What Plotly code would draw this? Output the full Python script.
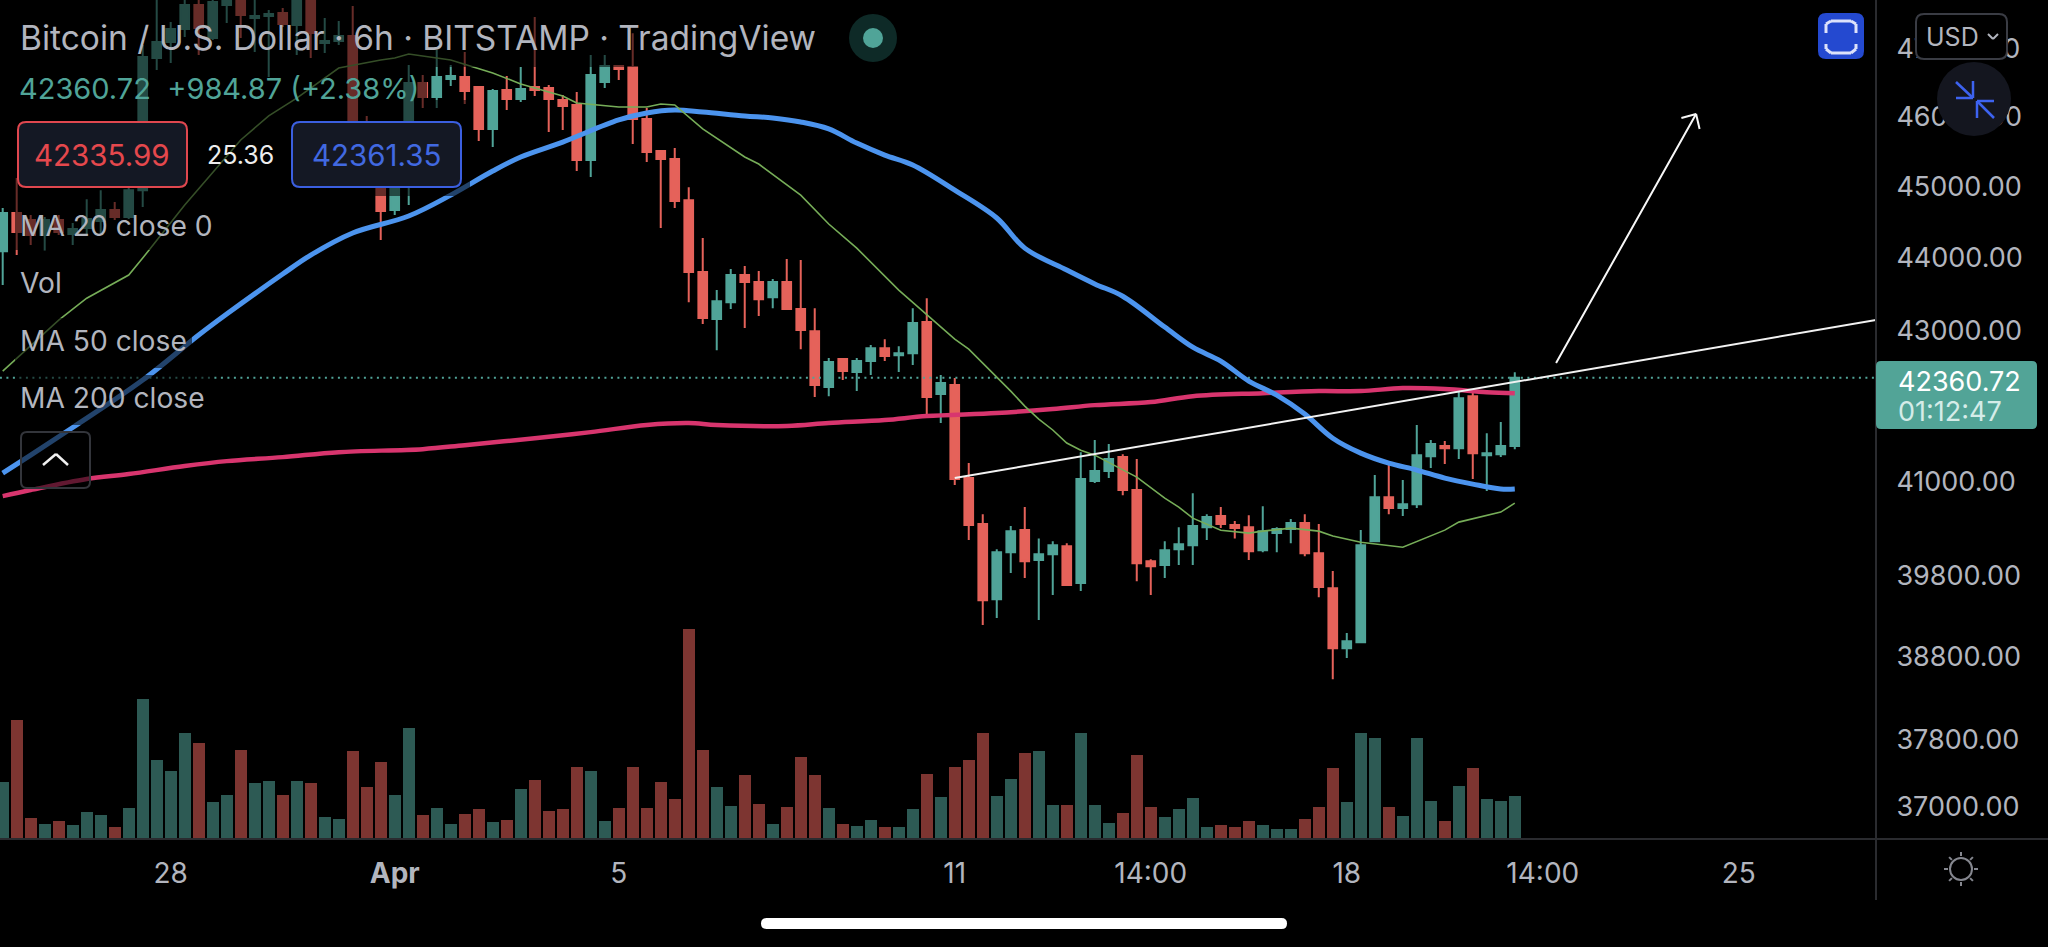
import math
import pandas as pd
import plotly.graph_objects as go

BAR_START = pd.Timestamp("2022-03-25 00:00")
BAR_COUNT = 109

open_ = [44087,44620,44522,44312,44522,44326,44410,44508,44662,44564,44943,46855,47093,47287,47645,47152,47645,47870,47451,47481,
47526,47347,47765,47077,47107,47182,45876,45515,44662,45229,46488,46282,46546,46576,46429,45819,46385,46253,46429,46414,
46238,46166,45372,46503,46737,46723,45963,45501,45386,44802,43797,43153,43384,43756,43659,43452,43659,43289,42989,42238,
42612,42438,42585,42759,42665,42692,43112,42144,42264,41043,40452,39505,40095,40375,39995,40070,40170,39706,41004,41134,
41315,40888,39982,39932,40133,40183,40413,40554,40439,40413,40120,40337,40388,40465,40082,39643,38900,38974,40233,40797,
40656,40707,41328,41459,41432,42117,41341,41354,41459]
high = [44690,45116,44592,44564,44592,44480,44816,44943,44774,45000,47048,47795,47391,47795,47765,47840,47870,47945,47840,47571,
47600,47795,47840,47451,47406,47630,46007,45660,45372,46752,46605,46973,46752,46944,46429,46400,46590,46723,47466,46458,
46311,46355,46899,46899,46752,47223,46122,45515,45544,44985,44270,43549,43839,43880,43811,43701,43977,43963,43302,42625,
42612,42625,42800,42881,42786,43302,43438,42398,42358,41237,40579,40133,40426,40669,40270,40233,40208,41380,41538,41485,
41354,41289,40007,40233,40413,40847,40579,40669,40490,40566,40681,40413,40516,40579,40452,39857,39085,40375,41082,41212,
41017,41735,41538,41525,42196,42170,41626,41775,42437]
low = [43618,44032,44172,44101,44312,44172,44312,44340,44522,44536,44704,46679,46782,47167,46899,47122,47376,47152,46944,46576,
47317,46899,46855,46929,47048,45515,45301,44241,44592,44732,46122,46122,46444,46180,45645,45558,46093,46209,46297,45775,
45804,45215,45129,46414,46532,45601,45344,44410,44690,43384,43085,42732,43289,43031,43194,43302,43275,42745,42104,42117,
42331,42184,42398,42585,42438,42532,41867,41761,40952,40248,39184,39271,39832,39769,39246,39556,39681,39606,40979,41043,
40822,39730,39556,39769,39932,39932,40248,40401,40270,39995,40095,40095,40208,40045,39530,38522,38778,38974,40220,40579,
40554,40656,41173,41225,41289,41030,40875,41315,41419]
close = [44620,44354,44312,44522,44354,44396,44536,44662,44564,44943,46870,47093,47287,47645,47302,47690,47795,47496,47481,47511,
47361,47720,47227,47107,47182,45660,45515,44648,45229,46488,46282,46576,46590,46370,45819,46370,46253,46400,46385,46253,
46151,45372,46605,46737,46693,45963,45486,45386,44788,43797,43167,43397,43756,43659,43425,43659,43289,43003,42264,42572,
42451,42585,42759,42652,42692,43099,42104,42291,41030,40439,39493,40095,40362,39982,40070,40183,39681,41030,41134,41289,
40888,39957,39919,40120,40196,40426,40541,40452,40401,40107,40362,40388,40465,40082,39656,38900,38986,40183,40797,40656,
40707,41341,41485,41432,42090,41367,41367,41459,42360.72]
volume = [55.7,118,20,13.7,17,12.7,26,23,10.7,29.7,139,77.7,66.7,104.7,95.3,36.3,42.7,88,54.7,56.7,
42.7,56.7,54.7,21.3,19.3,87,51,76,42.7,110,23,30.3,14.3,24,29,15.7,18,49,57.7,27,
29,70.7,67,17,30.3,70.7,30.3,56.3,39,209,88,51,32,62.7,34,14.3,31,80.7,63,29.7,
13.7,12,18,11.3,11.3,29,64.3,41,71,78,105,41.7,59,85,86.7,32.7,32.7,105,33.3,15,
25.3,83,30.7,21,29,40,11,13,10.7,17,13,9,9,19.3,30.7,70,35.7,105,99.7,30.7,
22.3,99.7,37,16.7,52,70,38.7,37,41.7]

ma20_bars = [0,4,6,9,10,13,17,19,21,24,27,28,29,32,35,37,39,40,41,44,46,47,48,50,53,54,57,59,61,64,68,69,72,73,74,75,76,77,78,81,83,84,85,87,89,90,92,94,95,97,100,103,104,107,108]
ma20 = [42451,43139,43438,43756,43991,44732,45660,46007,46267,46708,46826,46855,46914,46826,46635,46473,46356,46297,46195,46137,46137,46180,46166,45819,45415,45315,44873,44466,44129,43549,42881,42745,42184,41985,41814,41670,41499,41406,41341,41056,40784,40669,40528,40374,40337,40362,40401,40362,40299,40220,40158,40375,40477,40605,40720]
ma50_bars = [0,2,5,10,14,16,20,22,25,29,32,35,37,40,44,46,48,50,53,55,57,59,61,63,65,68,71,73,76,78,80,83,85,87,89,91,93,95,97,99,101,103,105,107,108]
ma50 = [41108,41341,41703,42331,42936,43221,43770,44032,44340,44578,44873,45215,45415,45630,45949,46050,46093,46064,46007,45978,45920,45819,45615,45443,45301,44943,44550,44129,43825,43634,43465,43044,42772,42585,42318,42130,41880,41562,41367,41237,41147,41043,40965,40901,40901]
ma200_bars = [0,2,6,9,13,16,20,24,30,33,38,42,46,49,51,56,59,63,66,71,75,78,82,85,90,94,97,100,103,106,108]
ma200 = [40810,40888,41030,41095,41199,41263,41315,41380,41419,41471,41562,41642,41735,41761,41735,41722,41761,41801,41853,41893,41946,41998,42038,42117,42157,42184,42184,42224,42211,42170,42157]

trend_bars = [68, 133.8]
trend_prices = [41043, 43140]
arrow_bars = [110.95, 120.95, 119.9, None, 120.95, 121.2]
arrow_prices = [42558, 46036, 45978, None, 46036, 45819]
last_price = 42360.72

y_tickvals = [47000,46000,45000,44000,43000,41000,39800,38800,37800,37000]
y_ticktext = ["47000.00","46000.00","45000.00","44000.00","43000.00","41000.00","39800.00","38800.00","37800.00","37000.00"]
x_tickdates = ["2022-03-28","2022-04-01","2022-04-05","2022-04-11","2022-04-14 12:00","2022-04-18","2022-04-21 12:00","2022-04-25"]
x_ticktext = ["28","<b>Apr</b>","5","11","14:00","18","14:00","25"]

W, H = 2048, 947
AXIS_X, AXIS_Y = 1876, 838
GREEN, RED = "#50A498", "#E5625A"
VGREEN, VRED = "#2D5A54", "#7D3531"
TXT = "#B2B5BE"
FONT = "Inter, 'Noto Sans', sans-serif"

def bar_time(i):
    return None if i is None else BAR_START + pd.Timedelta(hours=6 * i)
def X(p): return p / W
def Y(p): return 1 - p / H

dates = [bar_time(i) for i in range(BAR_COUNT)]
vol_colors = [VGREEN if c >= o else VRED for o, c in zip(open_, close)]

fig = go.Figure()
fig.add_trace(go.Bar(x=dates, y=volume, yaxis="y2", marker=dict(color=vol_colors, line=dict(width=0)),
                     width=6 * 3600 * 1000 * 0.83, hoverinfo="skip", showlegend=False))
fig.add_trace(go.Candlestick(x=dates, open=open_, high=high, low=low, close=close, whiskerwidth=0,
                             increasing=dict(line=dict(color=GREEN, width=2), fillcolor=GREEN),
                             decreasing=dict(line=dict(color=RED, width=2), fillcolor=RED),
                             hoverinfo="skip", showlegend=False))
fig.add_trace(go.Scatter(x=[bar_time(-0.2), bar_time(133.8)], y=[last_price, last_price], mode="lines",
                         line=dict(color=GREEN, width=2, dash="2px,4.5px"), hoverinfo="skip", showlegend=False))
fig.add_trace(go.Scatter(x=[bar_time(i) for i in ma200_bars], y=ma200, mode="lines",
                         line=dict(color="#D8356E", width=4.5, shape="spline"), hoverinfo="skip", showlegend=False))
fig.add_trace(go.Scatter(x=[bar_time(i) for i in ma50_bars], y=ma50, mode="lines",
                         line=dict(color="#4C94EE", width=5, shape="spline"), hoverinfo="skip", showlegend=False))
fig.add_trace(go.Scatter(x=[bar_time(i) for i in ma20_bars], y=ma20, mode="lines",
                         line=dict(color="#76AD58", width=1.6), hoverinfo="skip", showlegend=False))
fig.add_trace(go.Scatter(x=[bar_time(i) for i in trend_bars], y=trend_prices, mode="lines",
                         line=dict(color="#F2F2F2", width=2), hoverinfo="skip", showlegend=False))
fig.add_trace(go.Scatter(x=[bar_time(i) for i in arrow_bars], y=arrow_prices, mode="lines",
                         line=dict(color="#F7F7F7", width=2), connectgaps=False, hoverinfo="skip", showlegend=False))

shapes = []
def rect(x0, y0, x1, y1, fill=None, line=None, lw=0):
    shapes.append(dict(type="rect", xref="paper", yref="paper", x0=X(x0), x1=X(x1), y0=Y(y0), y1=Y(y1),
                       fillcolor=fill or "rgba(0,0,0,0)", line=dict(color=line or "rgba(0,0,0,0)", width=lw), layer="above"))
def rrect(x0, y0, x1, y1, r, fill=None, line=None, lw=0):
    path = (f"M {X(x0+r)} {Y(y0)} L {X(x1-r)} {Y(y0)} Q {X(x1)} {Y(y0)} {X(x1)} {Y(y0+r)} "
            f"L {X(x1)} {Y(y1-r)} Q {X(x1)} {Y(y1)} {X(x1-r)} {Y(y1)} "
            f"L {X(x0+r)} {Y(y1)} Q {X(x0)} {Y(y1)} {X(x0)} {Y(y1-r)} "
            f"L {X(x0)} {Y(y0+r)} Q {X(x0)} {Y(y0)} {X(x0+r)} {Y(y0)} Z")
    shapes.append(dict(type="path", xref="paper", yref="paper", path=path, fillcolor=fill or "rgba(0,0,0,0)",
                       line=dict(color=line or "rgba(0,0,0,0)", width=lw), layer="above"))
def seg(x0, y0, x1, y1, color, lw=2):
    shapes.append(dict(type="line", xref="paper", yref="paper", x0=X(x0), x1=X(x1), y0=Y(y0), y1=Y(y1),
                       line=dict(color=color, width=lw), layer="above"))
def circle(cx, cy, r, fill=None, line=None, lw=0):
    rect_d = dict(type="circle", xref="paper", yref="paper", x0=X(cx-r), x1=X(cx+r), y0=Y(cy+r), y1=Y(cy-r),
                  fillcolor=fill or "rgba(0,0,0,0)", line=dict(color=line or "rgba(0,0,0,0)", width=lw), layer="above")
    shapes.append(rect_d)

# translucent panels behind the legend rows
DIM = "rgba(0,0,0,0.55)"
rect(15, 0, 825, 67, DIM)
rect(15, 67, 427, 100, DIM)
rect(15, 100, 470, 196, DIM)
rect(15, 196, 218, 250, DIM)
rect(15, 262, 65, 305, DIM)
rect(15, 318, 192, 368, DIM)
rect(15, 375, 210, 425, DIM)
rrect(21, 432, 90, 488, 6, DIM, "#33353B", 2)
seg(43, 465, 56, 454, "#F0F0F0", 2.5)
seg(56, 454, 68, 465, "#F0F0F0", 2.5)

# axis rules
seg(0, AXIS_Y + 1, W, AXIS_Y + 1, "#2A2B2F", 2)
seg(AXIS_X, 0, AXIS_X, 900, "#2A2B2F", 2)

# legend price boxes
rrect(18, 122, 187, 187, 8, "#141824", "#E0474F", 2)
rrect(292, 122, 461, 187, 8, "#141824", "#3B5FE0", 2)

# live status dot
circle(873, 38, 24, "#0E2A27")
circle(873, 38, 10, GREEN)

# top-right buttons
rrect(1818, 13, 1864, 59, 8, "#2449D0")
for pts in [((1826,33),(1826,24),(1831,21),(1851,21),(1856,24),(1856,33)),
            ((1826,44),(1826,49),(1831,53),(1851,53),(1856,49),(1856,44))]:
    for a, b in zip(pts, pts[1:]):
        seg(a[0], a[1], b[0], b[1], "#DDE2FB", 3)
rrect(1916, 14, 2007, 59, 8, "#000000", "#3A3C44", 2)
seg(1988, 34, 1993, 39, TXT, 2)
seg(1993, 39, 1998, 34, TXT, 2)
circle(1974, 99, 37, "#14161F")
for a in [(1956,82,1973,98),(1973,81,1973,98),(1956,98,1973,98),(1994,118,1977,101),(1977,118,1977,101),(1994,101,1977,101)]:
    seg(*a, "#3D63F0", 2.5)

# last price tag
rrect(1876, 361, 2037, 429, 5, "#52A497")

# sun icon
circle(1961, 869, 11, None, "#85878F", 2)
for dx, dy in [(0,-1),(0,1),(-1,0),(1,0),(.7,.7),(-.7,.7),(.7,-.7),(-.7,-.7)]:
    seg(1961+dx*13, 869+dy*13, 1961+dx*17, 869+dy*17, "#85878F", 2)

# home indicator
rrect(761, 918, 1287, 929, 5.5, "#FFFFFF")

ann = []
def text(x, y, s, size, color, anchor="left", weight=None):
    ann.append(dict(x=X(x), y=Y(y), xref="paper", yref="paper", text=s, showarrow=False, xanchor=anchor, yanchor="middle",
                    font=dict(size=size, color=color, family=FONT), align=anchor))

text(18, 38, "Bitcoin / U.S. Dollar · 6h · BITSTAMP · TradingView", 33.5, TXT)
text(17, 88, "42360.72  +984.87 (+2.38%)", 29, GREEN)
text(102, 155, "42335.99", 29.5, "#E5484D", "center")
text(240, 155, "25.36", 25, "#EDEDED", "center")
text(376, 155, "42361.35", 29.5, "#4169E1", "center")
text(18, 226, "MA 20 close 0", 28.2, TXT)
text(18, 283, "Vol", 28.2, TXT)
text(18, 341, "MA 50 close", 28.2, TXT)
text(18, 398, "MA 200 close", 28.2, TXT)
text(1924, 37, "USD", 25, TXT)
text(1896, 381, "42360.72", 27, "#FFFFFF")
text(1896, 411, "01:12:47", 27, "#D5ECE8")

fig.update_layout(
    width=W, height=H, margin=dict(l=0, r=0, t=0, b=0), paper_bgcolor="#000000", plot_bgcolor="#000000",
    boxgap=0.38, boxgroupgap=0, bargap=0, showlegend=False, shapes=shapes, annotations=ann,
    font=dict(family=FONT),
    xaxis=dict(type="date", domain=[0, AXIS_X / W], range=[bar_time(-0.193), bar_time(133.8)],
               tickvals=x_tickdates, ticktext=x_ticktext, ticks="outside", ticklen=10, tickcolor="rgba(0,0,0,0)",
               tickfont=dict(size=28, color=TXT, family=FONT), showgrid=False, zeroline=False, showline=False,
               rangeslider=dict(visible=False), anchor="y"),
    yaxis=dict(type="log", domain=[1 - AXIS_Y / H, 1], range=[math.log10(36640), math.log10(47720)], side="right",
               tickmode="array", tickvals=y_tickvals, ticktext=y_ticktext, ticks="outside", ticklen=14,
               tickcolor="rgba(0,0,0,0)", tickfont=dict(size=27, color=TXT, family=FONT), showgrid=False,
               zeroline=False, showline=False, anchor="x"),
    yaxis2=dict(domain=[1 - AXIS_Y / H, 1], range=[0, AXIS_Y], overlaying="y", anchor="x", visible=False),
)
fig.write_html("out.html", config=dict(displayModeBar=False),
               post_script="document.body.style.margin='0';document.body.style.overflow='hidden';")
